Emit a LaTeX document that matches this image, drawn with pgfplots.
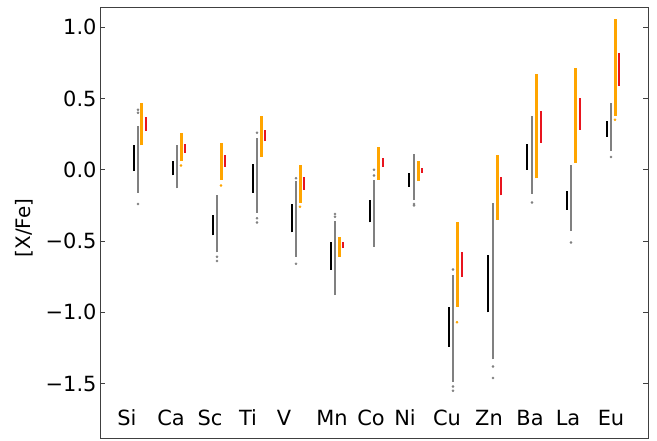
\documentclass[border=0pt]{standalone}
\usepackage{fontspec}
\setmainfont{DejaVu Sans}
\usepackage{pgfplots}
\pgfplotsset{compat=1.18}
\definecolor{mplorange}{HTML}{FFA500}
\definecolor{mplred}{HTML}{E8141E}
\definecolor{mplgray}{HTML}{808080}
\begin{document}
\begin{tikzpicture}
\path[use as bounding box] (-100bp,-3bp) rectangle (557bp,438bp);
\begin{axis}[
 at={(0,0)}, anchor=south west,
 scale only axis, width=548bp, height=431bp,
 xmin=100, xmax=648, ymin=-1.881, ymax=1.141,
 axis line style={draw=black!75, line width=0.9bp},
 ytick={-1.5,-1,-0.5,0,0.5,1}, yticklabels={−1.5,−1.0,−0.5,0.0,0.5,1.0},
 ytick pos=both, tick align=inside, major tick length=5bp,
 ytick style={draw=black!75, line width=0.9bp},
 xtick={127,171,210,248,284,332,371,405,447,489,530,568,611},
 xticklabels={Si,Ca,Sc,Ti,V,Mn,Co,Ni,Cu,Zn,Ba,La,Eu},
 x tick style={draw=none},
 xticklabel style={anchor=base, yshift=13bp},
 tick label style={font=\fontsize{21}{25}\selectfont},
 ylabel={[X/Fe]},
 every axis y label/.style={at={(axis description cs:-0.139,0.487)}, rotate=90, anchor=center, font=\fontsize{20}{24}\selectfont},
 unbounded coords=jump,
]
% black bars
\addplot[black, line width=2.4bp, mark=none] table[row sep=\\] {
x y\\ 134 -0.01\\ 134 0.17\\ nan nan\\
173 -0.04\\ 173 0.06\\ nan nan\\
213 -0.46\\ 213 -0.32\\ nan nan\\
253 -0.16\\ 253 0.04\\ nan nan\\
292 -0.44\\ 292 -0.24\\ nan nan\\
331 -0.70\\ 331 -0.51\\ nan nan\\
370 -0.37\\ 370 -0.21\\ nan nan\\
409 -0.12\\ 409 -0.02\\ nan nan\\
449 -1.24\\ 449 -0.96\\ nan nan\\
488 -1.00\\ 488 -0.60\\ nan nan\\
527 0.00\\ 527 0.18\\ nan nan\\
567 -0.28\\ 567 -0.15\\ nan nan\\
607 0.23\\ 607 0.34\\
};
% grey sample columns
\addplot[mplgray, line width=2.6bp, mark=none] table[row sep=\\] {
x y\\ 138 -0.16\\ 138 0.31\\ nan nan\\
177 -0.13\\ 177 0.17\\ nan nan\\
217 -0.58\\ 217 -0.18\\ nan nan\\
257 -0.30\\ 257 0.22\\ nan nan\\
296 -0.61\\ 296 -0.08\\ nan nan\\
335 -0.88\\ 335 -0.36\\ nan nan\\
374 -0.54\\ 374 -0.07\\ nan nan\\
414 -0.21\\ 414 0.11\\ nan nan\\
453 -1.49\\ 453 -0.74\\ nan nan\\
493 -1.33\\ 493 -0.23\\ nan nan\\
532 -0.17\\ 532 0.38\\ nan nan\\
571 -0.43\\ 571 0.03\\ nan nan\\
611 0.13\\ 611 0.47\\
};
\addplot[only marks, mark=*, mark size=1.1bp, mplgray] coordinates {
(138,0.40)(138,0.42)(138,-0.24)
(217,-0.61)(217,-0.64)
(257,0.26)(257,-0.34)(257,-0.37)
(296,-0.06)(296,-0.66)
(335,-0.31)(335,-0.33)
(374,0.00)(374,-0.04)
(414,-0.24)(414,-0.25)
(453,-0.70)(453,-1.52)(453,-1.55)
(493,-1.38)(493,-1.46)
(532,-0.23)
(571,-0.51)
(611,0.09)
};
% orange sample columns
\addplot[mplorange, line width=3bp, mark=none] table[row sep=\\] {
x y\\ 142 0.17\\ 142 0.47\\ nan nan\\
181 0.06\\ 181 0.26\\ nan nan\\
221 -0.07\\ 221 0.19\\ nan nan\\
261 0.09\\ 261 0.38\\ nan nan\\
300 -0.23\\ 300 0.03\\ nan nan\\
339 -0.61\\ 339 -0.47\\ nan nan\\
378 -0.07\\ 378 0.16\\ nan nan\\
418 -0.08\\ 418 0.06\\ nan nan\\
457 -0.96\\ 457 -0.37\\ nan nan\\
497 -0.35\\ 497 0.10\\ nan nan\\
536 -0.06\\ 536 0.67\\ nan nan\\
575 0.05\\ 575 0.71\\ nan nan\\
615 0.38\\ 615 1.06\\
};
\addplot[only marks, mark=*, mark size=1.1bp, mplorange] coordinates {
(181,0.03)(221,-0.11)(300,-0.26)(457,-1.07)(615,0.35)
};
% red bars
\addplot[mplred, line width=2.4bp, mark=none] table[row sep=\\] {
x y\\ 146 0.27\\ 146 0.37\\ nan nan\\
185 0.12\\ 185 0.18\\ nan nan\\
225 0.02\\ 225 0.10\\ nan nan\\
265 0.20\\ 265 0.28\\ nan nan\\
304 -0.14\\ 304 -0.05\\ nan nan\\
343 -0.55\\ 343 -0.51\\ nan nan\\
383 0.02\\ 383 0.08\\ nan nan\\
422 -0.02\\ 422 0.01\\ nan nan\\
462 -0.75\\ 462 -0.58\\ nan nan\\
501 -0.18\\ 501 -0.05\\ nan nan\\
541 0.19\\ 541 0.41\\ nan nan\\
580 0.28\\ 580 0.50\\ nan nan\\
619 0.59\\ 619 0.82\\
};
\end{axis}
\end{tikzpicture}
\end{document}
